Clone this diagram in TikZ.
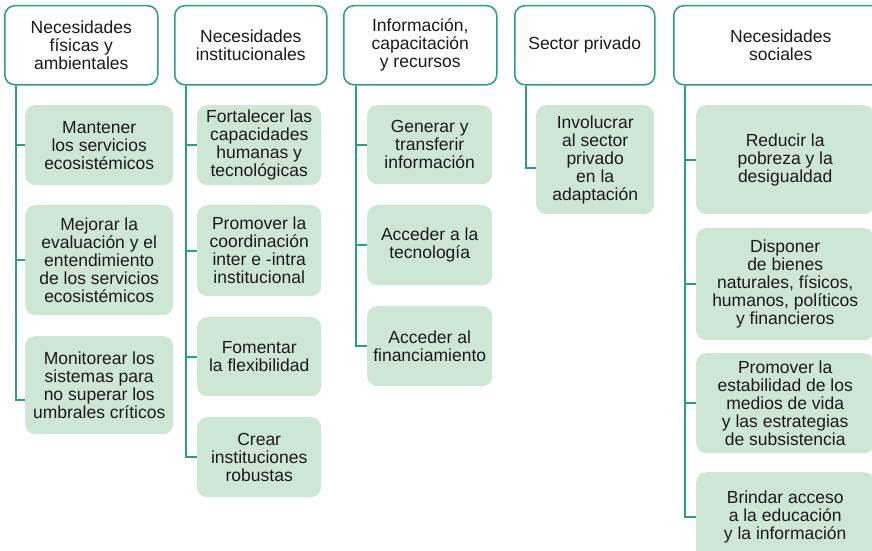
\documentclass[tikz,border=0pt]{standalone}
\usepackage{fontspec}
\setmainfont{Liberation Sans}
\usetikzlibrary{calc}
\definecolor{teal1}{RGB}{42,157,132}
\definecolor{leaf}{RGB}{206,231,213}
\definecolor{ink}{RGB}{26,26,26}
\begin{document}
\begin{tikzpicture}[x=1pt,y=-1pt,
  txt/.style={align=center, anchor=north west, inner sep=0pt, text=ink, font=\fontsize{17.5}{18}\selectfont},
  hdr/.style={txt, draw=teal1, line width=1.5pt, rounded corners=10pt, fill=white, minimum height=79pt},
  leafbox/.style={txt, fill=leaf, rounded corners=10pt},
  conn/.style={draw=teal1, line width=1.6pt}]
\useasboundingbox (0,0) rectangle (872,551);
\clip (0,0) rectangle (872,551);
\fill[white] (0,0) rectangle (872,551);

% headers
\node[hdr, minimum width=153pt] (h1) at (4,5) {Necesidades\\físicas y\\ambientales};
\node[hdr, minimum width=152pt] (h2) at (174,5) {Necesidades\\institucionales};
\node[hdr, minimum width=153pt] (h3) at (343,5) {Información,\\capacitación\\y recursos};
\node[hdr, minimum width=140pt] (h4) at (514,5) {Sector privado};
\node[hdr, minimum width=214pt] (h5) at (673,5) {Necesidades\\sociales};

% column 1
\node[leafbox, minimum width=148pt, minimum height=80pt] (m1) at (25,105) {Mantener\\los servicios\\ecosistémicos};
\node[leafbox, minimum width=148pt, minimum height=110pt] (m2) at (25,205) {Mejorar la\\evaluación y el\\entendimiento\\de los servicios\\ecosistémicos};
\node[leafbox, minimum width=148pt, minimum height=98pt] (m3) at (25,336) {Monitorear los\\sistemas para\\no superar los\\umbrales críticos};

% column 2
\node[leafbox, minimum width=124pt, minimum height=80pt] (f1) at (197,105) {Fortalecer las\\capacidades\\humanas y\\tecnológicas};
\node[leafbox, minimum width=124pt, minimum height=91pt] (f2) at (197,205) {Promover la\\coordinación\\inter e -intra\\institucional};
\node[leafbox, minimum width=124pt, minimum height=79pt] (f3) at (197,317) {Fomentar\\la flexibilidad};
\node[leafbox, minimum width=124pt, minimum height=80pt] (f4) at (197,417) {Crear\\instituciones\\robustas};

% column 3
\node[leafbox, minimum width=125pt, minimum height=79pt] (g1) at (367,105) {Generar y\\transferir\\información};
\node[leafbox, minimum width=125pt, minimum height=80pt] (g2) at (367,205) {Acceder a la\\tecnología};
\node[leafbox, minimum width=125pt, minimum height=80pt] (g3) at (367,306) {Acceder al\\financiamiento};

% column 4
\node[leafbox, minimum width=118pt, minimum height=109pt] (s1) at (536,105) {Involucrar\\al sector\\privado\\en la\\adaptación};

% column 5
\node[leafbox, minimum width=178pt, minimum height=109pt] (r1) at (696,105) {Reducir la\\pobreza y la\\desigualdad};
\node[leafbox, minimum width=178pt, minimum height=112pt] (r2) at (696,228) {Disponer\\de bienes\\naturales, físicos,\\humanos, políticos\\y financieros};
\node[leafbox, minimum width=178pt, minimum height=100pt] (r3) at (696,353) {Promover la\\estabilidad de los\\medios de vida\\y las estrategias\\de subsistencia};
\node[leafbox, minimum width=178pt, minimum height=90pt] (r4) at (696,472) {Brindar acceso\\a la educación\\y la información};

% trunk positions
\coordinate (v1) at (16,0);
\coordinate (v2) at (186,0);
\coordinate (v3) at (356,0);
\coordinate (v4) at (526,0);
\coordinate (v5) at (685,0);

% connectors
\draw[conn] (h1.south -| v1) |- (m1.west);
\draw[conn] (h1.south -| v1) |- (m2.west);
\draw[conn] (h1.south -| v1) |- ($(m3.west)+(0,15)$);

\draw[conn] (h2.south -| v2) |- (f1.west);
\draw[conn] (h2.south -| v2) |- (f2.west);
\draw[conn] (h2.south -| v2) |- (f3.west);
\draw[conn] (h2.south -| v2) |- (f4.west);

\draw[conn] (h3.south -| v3) |- (g1.west);
\draw[conn] (h3.south -| v3) |- (g2.west);
\draw[conn] (h3.south -| v3) |- (g3.west);

\draw[conn] (h4.south -| v4) |- ($(s1.west)+(0,8.5)$);

\draw[conn] (h5.south -| v5) |- (r1.west);
\draw[conn] (h5.south -| v5) |- (r2.west);
\draw[conn] (h5.south -| v5) |- (r3.west);
\draw[conn] (h5.south -| v5) |- (r4.west);
\end{tikzpicture}
\end{document}
